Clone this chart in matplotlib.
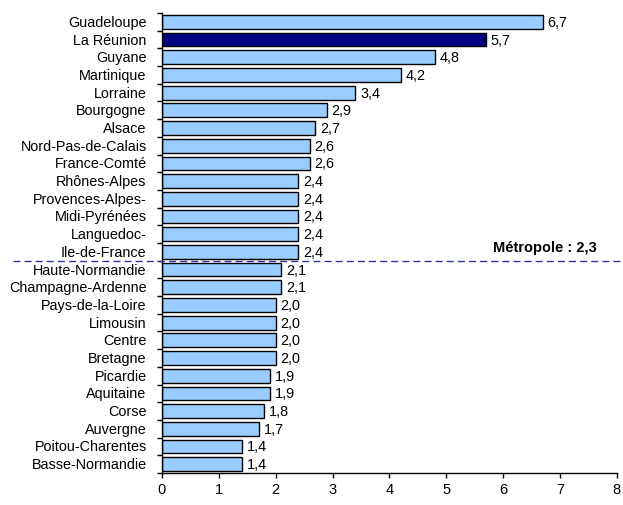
import matplotlib
matplotlib.use("Agg")
import matplotlib.pyplot as plt
import numpy as np

regions = [
    "Guadeloupe", "La Réunion", "Guyane", "Martinique", "Lorraine", "Bourgogne",
    "Alsace", "Nord-Pas-de-Calais", "France-Comté", "Rhônes-Alpes",
    "Provences-Alpes-", "Midi-Pyrénées", "Languedoc-", "Ile-de-France",
    "Haute-Normandie", "Champagne-Ardenne", "Pays-de-la-Loire", "Limousin",
    "Centre", "Bretagne", "Picardie", "Aquitaine", "Corse", "Auvergne",
    "Poitou-Charentes", "Basse-Normandie",
]
values = [6.7, 5.7, 4.8, 4.2, 3.4, 2.9, 2.7, 2.6, 2.6, 2.4, 2.4, 2.4, 2.4, 2.4,
          2.1, 2.1, 2.0, 2.0, 2.0, 2.0, 1.9, 1.9, 1.8, 1.7, 1.4, 1.4]
highlight = "La Réunion"
metropole = 2.3
xticks = [0, 1, 2, 3, 4, 5, 6, 7, 8]

plt.rcParams["font.family"] = ["Liberation Sans", "DejaVu Sans"]

fig = plt.figure(figsize=(6.23, 5.06), dpi=100)
ax = fig.add_axes([0.26, 0.0632, 0.730, 0.9091])

n = len(regions)
pos = np.arange(n)
colors = ["#000080" if r == highlight else "#99CCFF" for r in regions]
ax.barh(pos, values, height=0.78, color=colors, edgecolor="black", linewidth=1.0, zorder=2)

for p, v in zip(pos, values):
    ax.annotate(f"{v:.1f}".replace(".", ","), (v, p), xytext=(3.5, 0),
                textcoords="offset points", va="center", ha="left", fontsize=10.4)

ax.set_xlim(0, 8)
ax.set_ylim(n - 0.5, -0.5)
ax.set_xticks(xticks)
ax.set_xticklabels([str(t) for t in xticks], fontsize=10.5)

# category labels centered on bars, tick marks on category boundaries
ax.set_yticks(np.arange(-0.5, n, 1.0))
ax.set_yticklabels([])
ax.tick_params(axis="y", length=3.6, width=1, direction="out")
for p, r in zip(pos, regions):
    ax.annotate(r, (0, p), xytext=(-11, 0), textcoords="offset points",
                ha="right", va="center", fontsize=10.4, annotation_clip=False)
ax.tick_params(axis="x", length=3.6, width=1, direction="out", pad=3)

for s in ("top", "right"):
    ax.spines[s].set_visible(False)
for s in ("left", "bottom"):
    ax.spines[s].set_linewidth(1.0)

# split line between regions above and below the metropolitan rate
n_above = sum(v > metropole for v in values)
split = n_above - 0.5
ax.plot([-2.62, 8.05], [split, split], linestyle=(0, (5, 3)),
        color="#333399", linewidth=1.0, clip_on=False, zorder=3)
ax.text(7.65, split - 0.4, f"Métropole : {metropole:.1f}".replace(".", ","),
        ha="right", va="bottom", fontsize=10.5, fontweight="bold")

fig.savefig("out.png", dpi=100)
